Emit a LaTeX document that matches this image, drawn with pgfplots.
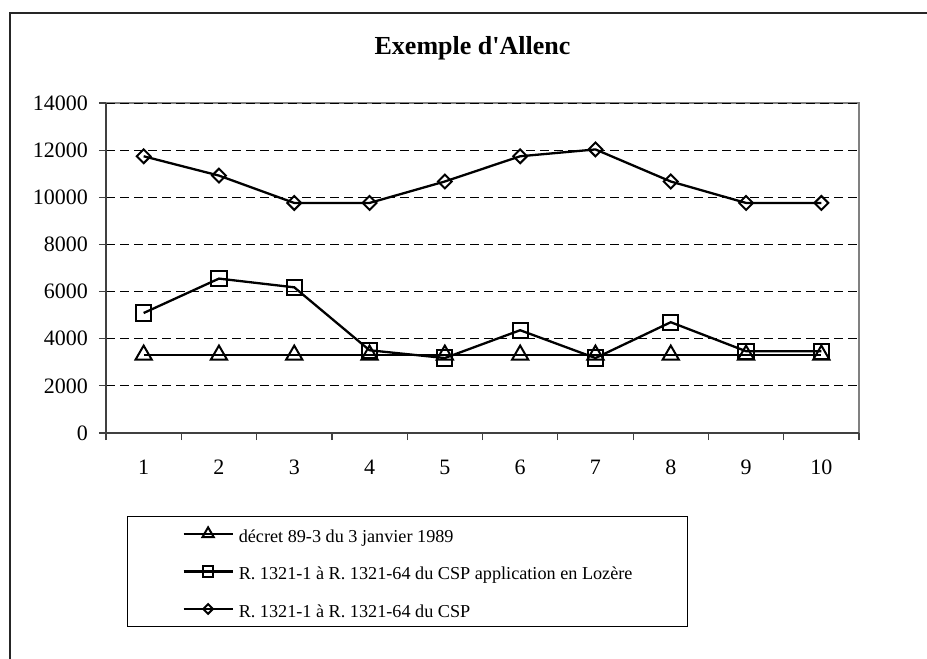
\documentclass[border=0pt]{standalone}
\usepackage{fontspec}
\setmainfont{Liberation Serif}
\usepackage{pgfplots}
\pgfplotsset{compat=1.18}
\frenchspacing
\begin{document}
\begin{tikzpicture}[x=1pt,y=1pt]
\useasboundingbox (0,0) rectangle (927,659);
\draw[line width=1.5pt, black!85] (10,-5) -- (10,646) -- (935,646);
\node[anchor=base, font=\bfseries\fontsize{26}{30}\selectfont] at (472.5,604) {Exemple d\textquotesingle Allenc};
\begin{axis}[
  at={(106pt,226pt)}, anchor=south west,
  scale only axis, width=753pt, height=330pt,
  xmin=0.5, xmax=10.5, ymin=0, ymax=14000,
  xtick={0.5,1.5,...,10.5}, xticklabels={},
  extra x ticks={1,2,3,4,5,6,7,8,9,10},
  extra x tick style={major tick length=0pt},
  ytick={0,2000,...,14000},
  scaled y ticks=false,
  /pgf/number format/assume math mode=true,
  /pgf/number format/1000 sep={},
  ticklabel style={font=\fontsize{22}{26}\selectfont},
  yticklabel style={anchor=east, inner sep=0pt, xshift=-11pt},
  xticklabel style={anchor=north, inner sep=0pt, yshift=-27pt},
  axis x line*=bottom, axis y line*=left,
  axis line style={-, draw=black!75, line width=1.6pt},
  axis background/.style={draw=black!50, line width=1.6pt},
  ymajorgrids,
  major grid style={black, line width=0.8pt, dash pattern=on 9pt off 5pt},
  tick align=outside, major tick length=7pt,
  tick style={black!75, line width=1.2pt},
  legend style={at={(0.0279,-0.2515)}, anchor=north west, draw=black, line width=0.9pt,
    fill=white, inner xsep=55pt, inner ysep=8pt, row sep=18.5pt, column sep=5pt,
    font=\fontsize{18.2}{22}\selectfont,
    nodes={inner sep=0pt, text height=18pt, text depth=1pt}},
  legend cell align=left,
  legend image code/.code={\draw[mark repeat=2, mark phase=2, #1, every mark/.append style={scale=0.7}] plot coordinates {(0pt,0pt) (24.5pt,0pt) (49pt,0pt)};},
]
\addplot[black, line width=2.3pt, mark=triangle, mark size=9.4pt, mark options={fill=white, solid, line width=2pt}]
  coordinates {(1,3310) (2,3310) (3,3310) (4,3310) (5,3310) (6,3310) (7,3310) (8,3310) (9,3310) (10,3310)};
\addlegendentry{décret 89-3 du 3 janvier 1989}
\addplot[black, line width=2.3pt, mark=square, mark size=7.6pt, mark options={fill=white, solid, line width=2pt}]
  coordinates {(1,5090) (2,6550) (3,6180) (4,3510) (5,3180) (6,4360) (7,3180) (8,4700) (9,3470) (10,3470)};
\addlegendentry{R. 1321-1 à R. 1321-64 du CSP application en Lozère}
\addplot[black, line width=2.3pt, mark=square, mark size=4.9pt, mark options={fill=white, solid, line width=2pt, rotate=45}]
  coordinates {(1,11740) (2,10920) (3,9760) (4,9760) (5,10670) (6,11740) (7,12030) (8,10670) (9,9760) (10,9760)};
\addlegendentry{R. 1321-1 à R. 1321-64 du CSP}
\end{axis}
\end{tikzpicture}
\end{document}
